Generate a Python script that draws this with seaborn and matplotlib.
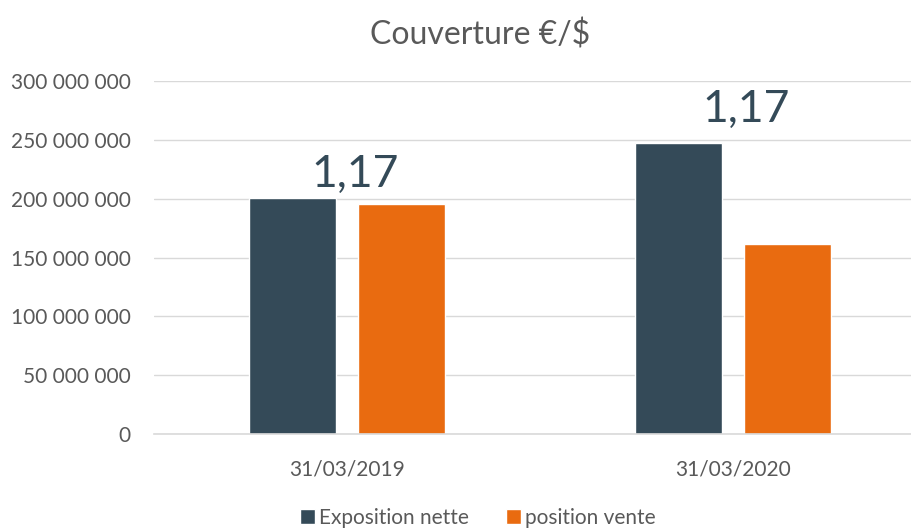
import matplotlib
matplotlib.use("Agg")
import matplotlib.pyplot as plt
import matplotlib.ticker as mticker
import seaborn as sns
import pandas as pd

# ---- data ----
dates = ["31/03/2019", "31/03/2020"]
series = ["Exposition nette", "position vente"]
exposition_nette = [200_600_000, 247_300_000]
position_vente = [195_500_000, 161_500_000]
taux = ["1,17", "1,17"]
title = "Couverture €/$"

df = pd.DataFrame({
    "date": dates * 2,
    "serie": [series[0]] * len(dates) + [series[1]] * len(dates),
    "valeur": exposition_nette + position_vente,
})

colors = ["#344A58", "#E96B10"]
grey = "#595959"

sns.set_theme(style="white")
plt.rcParams["font.family"] = ["Lato", "DejaVu Sans"]

fig = plt.figure(figsize=(9.12, 5.30), dpi=100)
ax = fig.add_axes([154 / 912, 1 - 434 / 530, 1 - 154 / 912, (434 - 81) / 530])

sns.barplot(data=df, x="date", y="valeur", hue="serie", palette=colors,
            width=0.567, gap=0.2, ax=ax, legend=True, saturation=1)

ax.set_ylim(0, 300_000_000)
ax.set_xlim(-0.5, 1 + (912 - 733) / 386)
ax.yaxis.set_major_locator(mticker.MultipleLocator(50_000_000))
ax.yaxis.set_major_formatter(mticker.FuncFormatter(lambda v, p: f"{int(v):,}".replace(",", " ")))
ax.grid(axis="y", color="#D9D9D9", linewidth=1)
ax.set_axisbelow(True)
for s in ["left", "right", "top"]:
    ax.spines[s].set_visible(False)
ax.spines["bottom"].set_color("#D9D9D9")
ax.spines["bottom"].set_linewidth(1.2)
ax.set_xlabel("")
ax.set_ylabel("")
ax.tick_params(axis="y", labelsize=15, colors=grey, pad=17, length=0)
ax.tick_params(axis="x", labelsize=15, colors=grey, pad=18, length=0)

# rate annotations
annot_offset_x = [0.02, 0.035]
annot_y = [210_000_000, 265_000_000]
for i, t in enumerate(taux):
    ax.text(i + annot_offset_x[i], annot_y[i], t, ha="center", va="baseline",
            fontsize=32, color="#344A58")

fig.text(480 / 912, 1 - 35 / 530, title, ha="center", va="center", fontsize=23, color=grey)

leg = ax.legend(loc="center", bbox_to_anchor=(478 / 912, 1 - 518 / 530),
                bbox_transform=fig.transFigure, ncol=2, frameon=False,
                fontsize=15, handlelength=0.7, handleheight=0.7, handletextpad=0.2,
                columnspacing=1.8)
for txt in leg.get_texts():
    txt.set_color(grey)

fig.savefig("out.png", dpi=100)
